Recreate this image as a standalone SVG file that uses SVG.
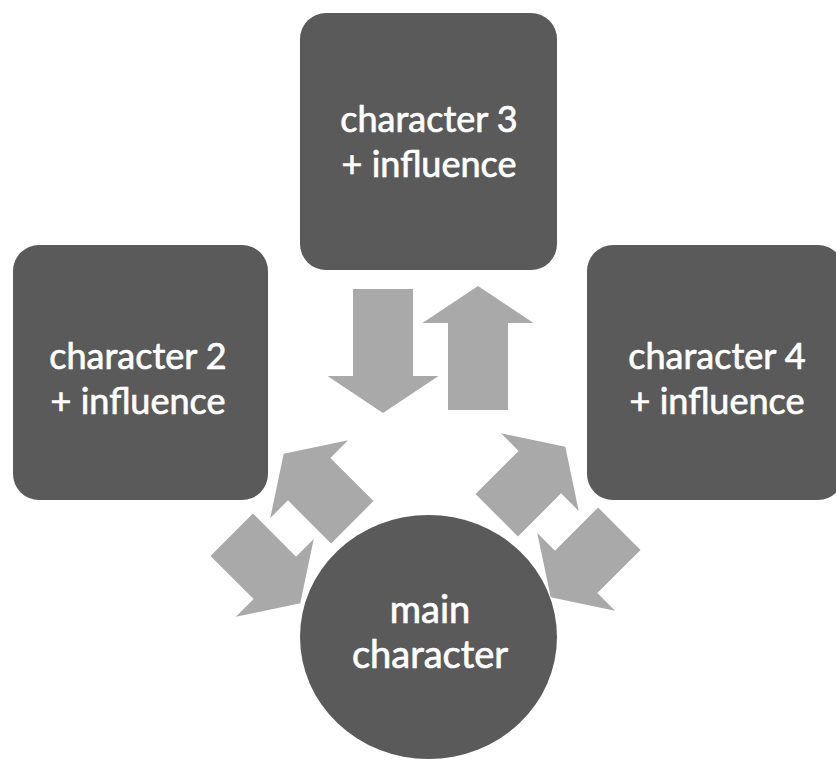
<svg xmlns="http://www.w3.org/2000/svg" width="836" height="768" viewBox="0 0 836 768">
  <defs>
    <style>
      .node { fill: #5a5a5a; }
      .arrow { fill: #a9a9a9; }
      .label { font-family: Lato, "Open Sans", sans-serif; font-size: 36px; fill: #ffffff; stroke: #ffffff; stroke-width: 0.7px; text-anchor: middle; }
      .big { font-size: 38px; }
    </style>
    <path id="arrowV" d="M0,-62 L55.5,-25 L30,-25 L30,62 L-30,62 L-30,-25 L-55.5,-25 Z"/>
    <path id="arrowD" d="M0,-48.5 L55,-12.5 L30,-12.5 L30,48.5 L-30,48.5 L-30,-12.5 L-55,-12.5 Z"/>
  </defs>
  <rect width="836" height="768" fill="#ffffff"/>
  <g id="connectors" class="arrow">
    <use href="#arrowV" transform="translate(383,351) rotate(180)"/>
    <use href="#arrowV" transform="translate(478,348)"/>
    <use href="#arrowD" transform="translate(318,488) rotate(-45)"/>
    <use href="#arrowD" transform="translate(266,569) rotate(135)"/>
    <use href="#arrowD" transform="translate(531,481) rotate(45)"/>
    <use href="#arrowD" transform="translate(585,563) rotate(-135)"/>
  </g>
  <g id="character3">
    <rect class="node" x="300" y="13" width="257" height="257" rx="26"/>
    <text class="label" x="429" y="132">character 3</text>
    <text class="label" x="429" y="177">+ influence</text>
  </g>
  <g id="character2">
    <rect class="node" x="13" y="245" width="255" height="255" rx="26"/>
    <text class="label" x="138" y="369">character 2</text>
    <text class="label" x="138" y="414">+ influence</text>
  </g>
  <g id="character4">
    <rect class="node" x="587" y="245" width="257" height="255" rx="26"/>
    <text class="label" x="717" y="369">character 4</text>
    <text class="label" x="717" y="414">+ influence</text>
  </g>
  <g id="main">
    <ellipse class="node" cx="428.5" cy="637" rx="128.5" ry="122"/>
    <text class="label big" x="430" y="623">main</text>
    <text class="label big" x="430" y="668">character</text>
  </g>
</svg>
